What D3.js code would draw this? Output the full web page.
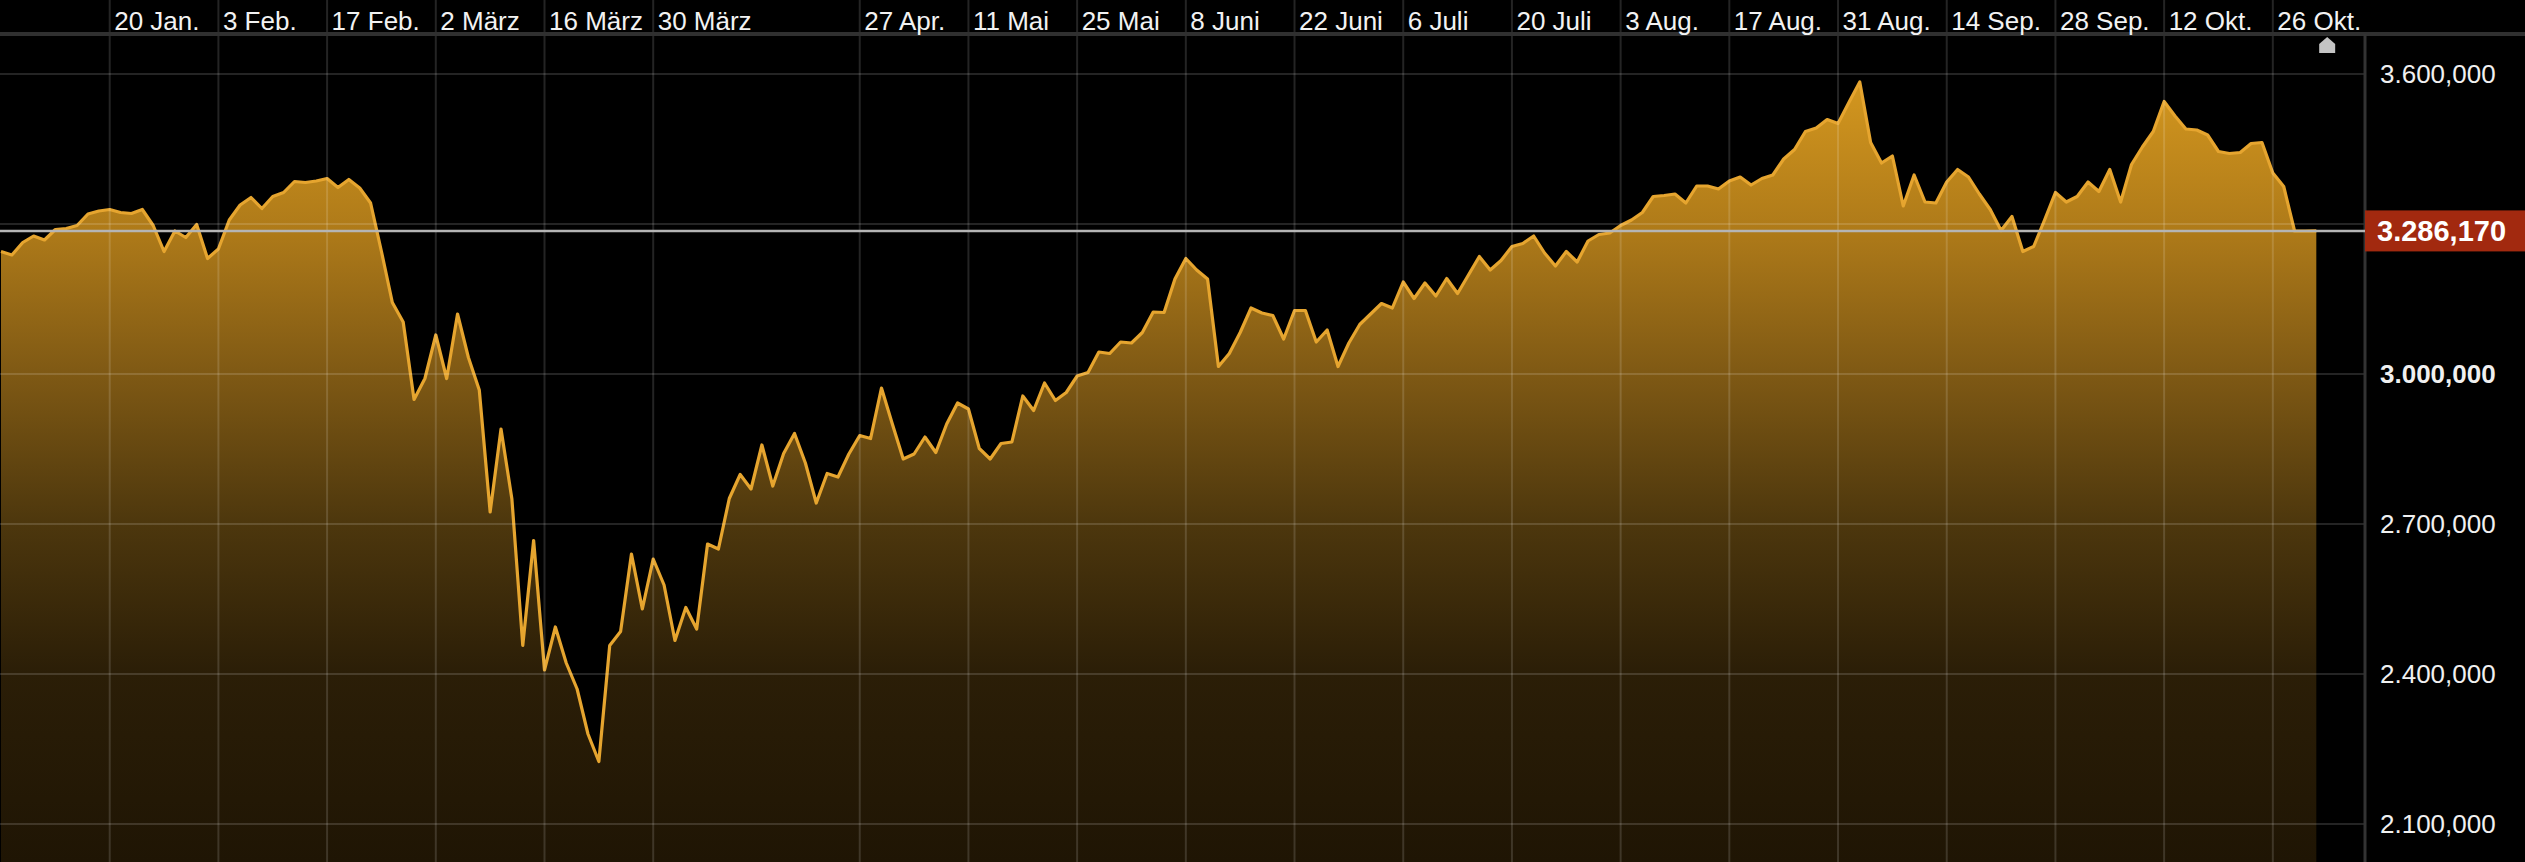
<!DOCTYPE html>
<html>
<head>
<meta charset="utf-8">
<script src="https://cdn.jsdelivr.net/npm/d3@7/dist/d3.min.js"></script>
<style>
  html, body { margin: 0; padding: 0; background: #000; }
  svg { display: block; }
  text { font-family: "Liberation Sans", Arial, Helvetica, sans-serif; }
</style>
</head>
<body>
<svg id="chart" width="2525" height="862"></svg>
<script>
// ---- data ----
const startDate = "2020-01-06";
const endDate = "2020-10-30";
const marketHolidays = ["2020-04-10"];

const values = [
  3245, 3238, 3263, 3276, 3268, 3289, 3291, 3297, 3320, 3326,
  3329, 3323, 3321, 3329, 3297, 3245, 3286, 3273, 3299, 3231,
  3250, 3308, 3338, 3353, 3331, 3355, 3363, 3385, 3383, 3386,
  3391, 3373, 3389, 3372, 3342, 3245, 3143, 3104, 2949, 2991,
  3078, 2991, 3120, 3033, 2968, 2724, 2890, 2750, 2457, 2667,
  2408, 2494, 2422, 2370, 2280, 2225, 2457, 2485, 2640, 2530,
  2630, 2578, 2467, 2533, 2490, 2660, 2650, 2751, 2799, 2770,
  2858, 2776, 2841, 2881, 2822, 2742, 2801, 2794, 2840, 2877,
  2871, 2972, 2900, 2830, 2840, 2874, 2843, 2900, 2942, 2930,
  2851, 2830, 2861, 2864, 2956, 2927, 2982, 2947, 2963, 2996,
  3003, 3044, 3041, 3064, 3062, 3083, 3124, 3123, 3190, 3231,
  3208, 3190, 3015, 3041, 3083, 3132, 3122, 3117, 3070, 3127,
  3127, 3064, 3088, 3015, 3062, 3099, 3120, 3141, 3132, 3184,
  3151, 3182, 3156, 3191, 3161, 3198, 3235, 3208, 3227, 3255,
  3261, 3276, 3242, 3216, 3245, 3224, 3266, 3279, 3282, 3297,
  3308, 3323, 3355, 3357, 3360, 3342, 3376, 3376, 3370, 3386,
  3394, 3378, 3391, 3398, 3430, 3449, 3485, 3492, 3509, 3501,
  3543, 3584, 3463, 3422, 3436, 3336, 3398, 3344, 3342, 3384,
  3409, 3394, 3360, 3329, 3287, 3315, 3245, 3255, 3308, 3363,
  3344, 3355, 3384, 3365, 3409, 3344, 3419, 3454, 3485, 3545,
  3516, 3490, 3488, 3478, 3445, 3441, 3443, 3461, 3463, 3402,
  3375, 3286, 3286, 3286.17
];
const lastValue = 3286.17;

const tickDates = ["2020-01-20","2020-02-03","2020-02-17","2020-03-02","2020-03-16","2020-03-30",
  "2020-04-27","2020-05-11","2020-05-25","2020-06-08","2020-06-22","2020-07-06","2020-07-20",
  "2020-08-03","2020-08-17","2020-08-31","2020-09-14","2020-09-28","2020-10-12","2020-10-26"];
const tickLabels = ["20 Jan.","3 Feb.","17 Feb.","2 März","16 März","30 März",
  "27 Apr.","11 Mai","25 Mai","8 Juni","22 Juni","6 Juli","20 Juli",
  "3 Aug.","17 Aug.","31 Aug.","14 Sep.","28 Sep.","12 Okt.","26 Okt."];
const yTicks = [2100, 2400, 2700, 3000, 3300, 3600];

// ---- build ----
const W = 2525, H = 862;
const axisX = 2365;
const iso = d3.utcFormat("%Y-%m-%d");
const dates = d3.utcDays(new Date(startDate + "T00:00:00Z"), d3.utcDay.offset(new Date(endDate + "T00:00:00Z"), 1))
  .filter(d => d.getUTCDay() !== 0 && d.getUTCDay() !== 6 && !marketHolidays.includes(iso(d)))
  .map(iso);
const data = dates.map((k, i) => ({ k, v: values[i] }));

const step = 10.87;
const x = d3.scalePoint().domain(dates).range([1, 1 + (dates.length - 1) * step]);
const y = d3.scaleLinear().domain([2100, 3600]).range([824, 74]);

const locale = d3.formatLocale({ decimal: ",", thousands: ".", grouping: [3], currency: ["", ""] });
const fmt = locale.format(",.3f");

const svg = d3.select("#chart");
svg.append("rect").attr("width", W).attr("height", H).attr("fill", "#000");

const defs = svg.append("defs");
const grad = defs.append("linearGradient").attr("id", "gold")
  .attr("gradientUnits", "userSpaceOnUse").attr("x1", 0).attr("x2", 0).attr("y1", 74).attr("y2", H);
[[0, "#d5981f"], [0.2, "#ae7a19"], [0.38, "#7f5914"], [0.57, "#4d370d"], [0.76, "#2b1e07"], [1, "#1f1504"]]
  .forEach(([o, c]) => grad.append("stop").attr("offset", o).attr("stop-color", c));

// area + line
const area = d3.area().x(d => x(d.k)).y0(H).y1(d => y(d.v));
const line = d3.line().x(d => x(d.k)).y(d => y(d.v));
svg.append("path").datum(data).attr("d", area).attr("fill", "url(#gold)");
svg.append("path").datum(data).attr("d", line).attr("fill", "none")
  .attr("stroke", "#e6a52f").attr("stroke-width", 3.2).attr("stroke-linejoin", "round");

// grid
const grid = svg.append("g").attr("stroke", "rgba(255,255,255,0.14)").attr("stroke-width", 2);
grid.selectAll("line.v").data(tickDates).join("line").attr("class", "v")
  .attr("x1", d => x(d)).attr("x2", d => x(d)).attr("y1", 0).attr("y2", H);
grid.selectAll("line.h").data(yTicks).join("line").attr("class", "h")
  .attr("x1", 0).attr("x2", axisX).attr("y1", d => y(d)).attr("y2", d => y(d));

// top band line
svg.append("rect").attr("x", 0).attr("y", 32).attr("width", W).attr("height", 4).attr("fill", "#303030");

// x axis labels
const labelOf = new Map(tickDates.map((d, i) => [d, tickLabels[i]]));
const xAxis = svg.append("g").attr("transform", "translate(0,30)")
  .call(d3.axisTop(x).tickValues(tickDates).tickFormat(d => labelOf.get(d)).tickSize(0).tickPadding(0));
xAxis.select(".domain").remove();
xAxis.selectAll("text").attr("x", 4).attr("dy", 0).attr("text-anchor", "start")
  .attr("fill", "#f2f2f2").attr("font-size", 26);

// right axis line
svg.append("line").attr("x1", axisX).attr("x2", axisX).attr("y1", 34).attr("y2", H)
  .attr("stroke", "#333").attr("stroke-width", 3);

// y axis labels (the label hidden behind the current-value box is not drawn, as in the original)
const yLabelTicks = yTicks.filter(t => Math.abs(y(t) - y(lastValue)) > 24);
const yAxis = svg.append("g").attr("transform", `translate(${axisX},0)`)
  .call(d3.axisRight(y).tickValues(yLabelTicks).tickFormat(fmt).tickSize(0).tickPadding(15));
yAxis.select(".domain").remove();
yAxis.selectAll("text").attr("fill", "#f0f0f0").attr("font-size", 26)
  .attr("font-weight", d => d === 3000 ? "bold" : "normal");

// current value line
svg.append("line").attr("x1", 0).attr("x2", axisX).attr("y1", y(lastValue)).attr("y2", y(lastValue))
  .attr("stroke", "#b5b5b5").attr("stroke-width", 2.5);

// current value box
svg.append("rect").attr("x", axisX).attr("y", y(lastValue) - 20.5).attr("width", W - axisX).attr("height", 41)
  .attr("fill", "#a2290f");
svg.append("text").attr("x", axisX + 12).attr("y", y(lastValue)).attr("dy", "0.35em")
  .attr("fill", "#fff").attr("font-size", 29).attr("font-weight", "bold").text(fmt(lastValue));

// end marker
const mx = x(dates[dates.length - 1]) + step;
svg.append("path")
  .attr("d", `M${mx},37 L${mx + 8},44 L${mx + 8},53 L${mx - 8},53 L${mx - 8},44 Z`)
  .attr("fill", "#c4c4c4");
</script>
</body>
</html>
